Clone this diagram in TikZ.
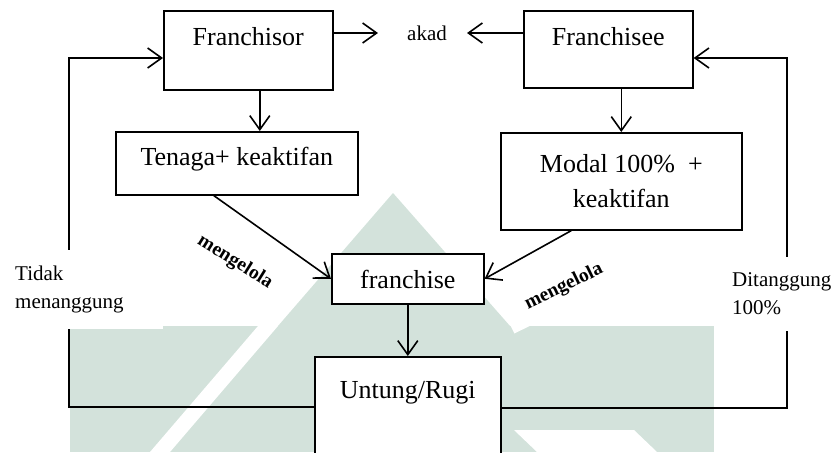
\documentclass[tikz,border=0pt]{standalone}
\usepackage{fontspec}
\setmainfont{Liberation Serif}
\usetikzlibrary{arrows.meta}
\definecolor{logogreen}{RGB}{211,226,219}

\begin{document}
\begin{tikzpicture}[x=1pt, y=-1pt,
    box/.style={draw, fill=white, line width=1.6pt, anchor=north west, inner xsep=0pt, inner ysep=0pt, align=center, font=\fontsize{26}{35}\selectfont},
    conn/.style={line width=1.6pt, -{Straight Barb[length=14pt, width=20pt, line width=1.6pt]}},
    side/.style={fill=white, anchor=north west, align=left, inner xsep=3pt, inner ysep=15.7pt, font=\fontsize{21}{28}\selectfont},
    verb/.style={fill=white, font=\fontsize{19.5}{22}\selectfont\bfseries, minimum width=130pt, minimum height=40pt}]

  \useasboundingbox (0,0) rectangle (837,452);

  % Watermark
  \fill[logogreen] (70,326) rectangle (714,452);
  \fill[logogreen] (393,193) -- (510,326) -- (278,326) -- cycle;
  \fill[white] (150,452) -- (258,326) -- (278,326) -- (170,452) -- cycle;
  \fill[white] (514,430) -- (634,430) -- (657,452) -- (537,452) -- cycle;

  % Arrow labels
  \node[verb, rotate=-32] (kelola1) at (235,262) {mengelola};
  \node[verb, rotate=26] (kelola2) at (564,287) {mengelola};

  % Boxes
  \node[box, minimum width=169pt, text height=35pt, text depth=44pt] (franchisor) at (163,10) {Franchisor};
  \node[box, minimum width=169pt, text height=35pt, text depth=42pt] (franchisee) at (523,10) {Franchisee};
  \node[font=\fontsize{21}{25}\selectfont, inner sep=0pt] (akad) at (427,33) {akad};
  \node[box, minimum width=242pt, text height=34pt, text depth=29pt] (tenaga) at (115,131) {Tenaga+ keaktifan};
  \node[box, minimum width=241pt, minimum height=97pt] (modal) at (500,132) {Modal 100\%\ \ +\\keaktifan};
  \node[box, minimum width=152pt, text height=35pt, text depth=15pt] (franchise) at (331,253) {franchise};
  \node[box, minimum width=186pt, text height=42pt, text depth=78pt] (untung) at (314,356) {Untung/Rugi};

  % Connections
  \draw[conn, shorten >=29pt] (franchisor.east |- akad) -- (akad.west);
  \draw[conn, shorten >=20pt] (franchisee.west |- akad) -- (akad.east);
  \draw[conn] ([xshift=11.5pt]franchisor.south) -- ([xshift=11.5pt]franchisor.south |- tenaga.north);
  \draw[conn] (franchisee.south -| modal.north) -- (modal.north);
  \draw[conn] ([xshift=-23pt]tenaga.south) -- (franchise.west);
  \draw[conn] ([xshift=-50pt]modal.south) -- (franchise.east);
  \draw[conn] (franchise.south) -- (untung.north);

  % Loops back to the top
  \coordinate (leftup) at (69,58);
  \coordinate (rightup) at (787,58);
  \draw[conn] ([yshift=10pt]untung.west) -| (leftup) -- (leftup -| franchisor.west);
  \draw[conn] ([yshift=9pt]untung.east) -| (rightup) -- (rightup -| franchisee.east);

  % Side labels
  \node[side, text width=145pt] (tidak) at (12,250) {Tidak\\menanggung};
  \node[side, text width=110pt] (ditanggung) at (729,257) {Ditanggung\\100\%};
\end{tikzpicture}
\end{document}
